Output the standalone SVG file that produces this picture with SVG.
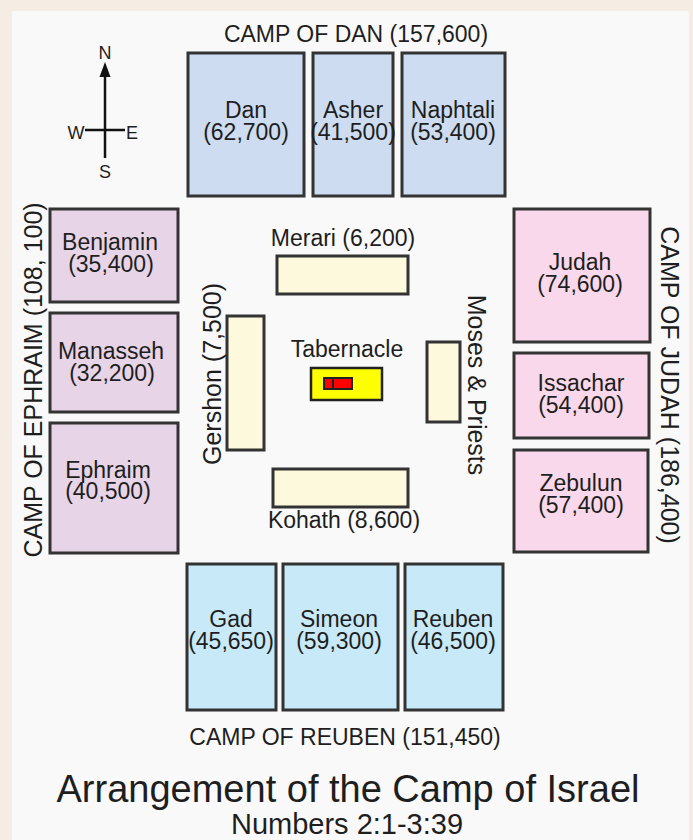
<svg xmlns="http://www.w3.org/2000/svg" width="693" height="840" viewBox="0 0 693 840">
<style>
text{font-family:"Liberation Sans",Arial,sans-serif;fill:#1e1e1e;text-anchor:middle}
.t{font-size:23px}
.v{font-size:25px}
.box{stroke:#333;stroke-width:3}
.dan{fill:#cddcf0}
.eph{fill:#e7d4e7}
.jud{fill:#f8d8ea}
.reu{fill:#c8e9f8}
.lev{fill:#fdf9dd}
.cmp{stroke:#111;stroke-width:2.5;fill:none}
</style>
<rect x="0" y="0" width="693" height="840" fill="#f5ede3"/>
<rect x="12" y="11" width="677" height="829" fill="#f9f9f9"/>

<g id="compass">
<line class="cmp" x1="105" y1="74" x2="105" y2="158"/>
<line class="cmp" x1="85" y1="130" x2="125" y2="130"/>
<polygon points="105,62 99.5,77 110.5,77" fill="#111"/>
<text x="105" y="59" style="font-size:18px">N</text>
<text x="76" y="139" style="font-size:18px">W</text>
<text x="132" y="139" style="font-size:18px">E</text>
<text x="105" y="178" style="font-size:18px">S</text>
</g>

<g id="camp-dan">
<text class="t" x="356" y="42">CAMP OF DAN (157,600)</text>
<g id="dan"><rect class="box dan" x="188" y="53" width="116" height="143"/>
<text class="t" x="246" y="118">Dan</text><text class="t" x="246" y="140">(62,700)</text></g>
<g id="asher"><rect class="box dan" x="313" y="53" width="80" height="143"/>
<text class="t" x="353" y="118">Asher</text><text class="t" x="353" y="140">(41,500)</text></g>
<g id="naphtali"><rect class="box dan" x="402" y="53" width="103" height="143"/>
<text class="t" x="453" y="118">Naphtali</text><text class="t" x="453" y="140">(53,400)</text></g>
</g>

<g id="camp-ephraim">
<text class="v" transform="translate(42,380) rotate(-90)">CAMP OF EPHRAIM (108, 100)</text>
<g id="benjamin"><rect class="box eph" x="50" y="209" width="128" height="93"/>
<text class="t" x="110" y="250">Benjamin</text><text class="t" x="111" y="272">(35,400)</text></g>
<g id="manasseh"><rect class="box eph" x="50" y="313" width="128" height="99"/>
<text class="t" x="111" y="359">Manasseh</text><text class="t" x="112" y="381">(32,200)</text></g>
<g id="ephraim"><rect class="box eph" x="50" y="423" width="128" height="130"/>
<text class="t" x="108" y="478">Ephraim</text><text class="t" x="108" y="499">(40,500)</text></g>
</g>

<g id="camp-judah">
<text class="v" transform="translate(661,385) rotate(90)">CAMP OF JUDAH (186,400)</text>
<g id="judah"><rect class="box jud" x="514" y="209" width="136" height="133"/>
<text class="t" x="580" y="270">Judah</text><text class="t" x="580" y="292">(74,600)</text></g>
<g id="issachar"><rect class="box jud" x="514" y="353" width="135" height="85"/>
<text class="t" x="581" y="391">Issachar</text><text class="t" x="581" y="413">(54,400)</text></g>
<g id="zebulun"><rect class="box jud" x="514" y="450" width="134" height="102"/>
<text class="t" x="581" y="491">Zebulun</text><text class="t" x="581" y="513">(57,400)</text></g>
</g>

<g id="camp-reuben">
<g id="gad"><rect class="box reu" x="187" y="564" width="89" height="146"/>
<text class="t" x="231" y="627">Gad</text><text class="t" x="231" y="649">(45,650)</text></g>
<g id="simeon"><rect class="box reu" x="283" y="564" width="115" height="146"/>
<text class="t" x="339" y="627">Simeon</text><text class="t" x="339" y="649">(59,300)</text></g>
<g id="reuben"><rect class="box reu" x="405" y="564" width="98" height="146"/>
<text class="t" x="453" y="627">Reuben</text><text class="t" x="453" y="649">(46,500)</text></g>
<text class="t" x="345" y="745">CAMP OF REUBEN (151,450)</text>
</g>

<g id="merari"><rect class="box lev" x="277" y="256" width="131" height="38"/>
<text class="t" x="343" y="246">Merari (6,200)</text></g>
<g id="gershon"><rect class="box lev" x="227" y="316" width="37" height="134"/>
<text class="v" transform="translate(221,374) rotate(-90)">Gershon (7,500)</text></g>
<g id="moses"><rect class="box lev" x="427" y="342" width="33" height="80"/>
<text class="v" transform="translate(468,385) rotate(90)">Moses &amp; Priests</text></g>
<g id="kohath"><rect class="box lev" x="273" y="469" width="135" height="38"/>
<text class="t" x="344" y="528">Kohath (8,600)</text></g>
<g id="tabernacle">
<text class="t" x="347" y="357">Tabernacle</text>
<rect x="311" y="368" width="71" height="32" fill="#ffff00" stroke="#222" stroke-width="2.5"/>
<rect x="324" y="378" width="28" height="11" fill="#ff0000" stroke="#222" stroke-width="2"/>
<line x1="333" y1="378" x2="333" y2="389" stroke="#222" stroke-width="2"/>
</g>

<g id="title">
<text x="348" y="802" style="font-size:38px">Arrangement of the Camp of Israel</text>
<text x="347" y="834" style="font-size:29px">Numbers 2:1-3:39</text>
</g>
<g id="connectors"></g>
</svg>
